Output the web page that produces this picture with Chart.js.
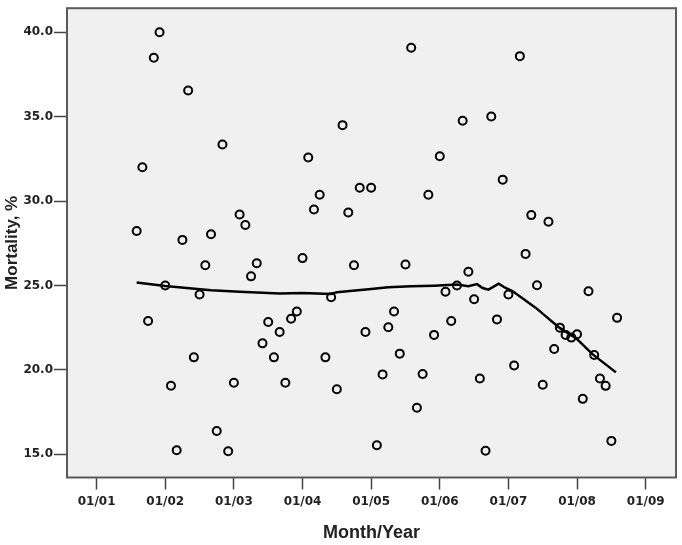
<!DOCTYPE html>
<html>
<head>
<meta charset="utf-8">
<script src="https://cdn.jsdelivr.net/npm/chart.js@4/dist/chart.umd.min.js"></script>
<style>
  html, body { margin: 0; padding: 0; background: #ffffff; }
  #wrap { width: 682px; height: 545px; }
</style>
</head>
<body>
<div id="wrap"><canvas id="c" width="682" height="545"></canvas></div>
<script>
// Month index: 0 = January 2001
const months = [7,8,9,10,11,12,13,14,15,16,17,18,19,20,21,22,23,24,25,26,27,28,29,30,31,32,33,34,35,36,37,38,39,40,41,42,43,44,45,46,47,48,49,50,51,52,53,54,55,56,57,58,59,60,61,62,63,64,65,66,67,68,69,70,71,72,73,74,75,76,77,78,79,80,81,82,83,84,85,86,87,88,89,90,91];
const mortality = [28.23,32.01,22.89,38.49,40.0,25.0,19.06,15.24,27.70,36.55,20.74,24.46,26.20,28.03,16.38,33.35,15.18,19.24,29.2,28.58,25.54,26.32,21.57,22.83,20.74,22.24,19.24,23.03,23.46,26.62,32.58,29.50,30.38,20.74,24.30,18.85,34.50,29.32,26.20,30.79,22.24,30.79,15.53,19.73,22.52,23.46,20.96,26.24,39.09,17.75,19.75,30.38,22.07,32.66,24.63,22.89,25.0,34.76,25.81,24.18,19.49,15.20,35.01,22.99,31.27,24.46,20.26,38.59,26.87,29.17,25.01,19.12,28.78,21.23,22.50,22.07,21.91,22.11,18.28,24.66,20.88,19.49,19.05,15.79,23.08];

// Fit line
const fitMonths = [7,12,20,25,32,36,41,42,48,51,55,59,63,65,66.5,67.5,68.5,69.5,70.3,71.5,72.7,76.8,80.9,83.8,86.7,90.8];
const fitValues = [25.18,24.97,24.72,24.62,24.52,24.55,24.50,24.60,24.79,24.90,24.95,24.99,25.05,24.95,25.08,24.85,24.75,24.95,25.10,24.85,24.67,23.67,22.50,21.88,20.93,19.85];

const xTickMonths = [0,12,24,36,48,60,72,84,96];
const xTickLabels = ["01/01","01/02","01/03","01/04","01/05","01/06","01/07","01/08","01/09"];
const yTicks = [15,20,25,30,35,40];

const scatterData = months.map((m, i) => ({x: m, y: mortality[i]}));
const fitData = fitMonths.map((m, i) => ({x: m, y: fitValues[i]}));

const plotFrame = {
  id: 'plotFrame',
  beforeDatasetsDraw(chart) {
    const a = chart.chartArea, ctx = chart.ctx;
    ctx.save();
    ctx.fillStyle = '#f0f0f0';
    ctx.fillRect(a.left, a.top, a.right - a.left, a.bottom - a.top);
    ctx.restore();
  },
  afterDatasetsDraw(chart) {
    const a = chart.chartArea, ctx = chart.ctx;
    ctx.save();
    ctx.strokeStyle = '#5a5a5a';
    ctx.lineWidth = 2;
    ctx.strokeRect(a.left, a.top, a.right - a.left, a.bottom - a.top);
    ctx.restore();
  }
};

new Chart(document.getElementById('c'), {
  type: 'scatter',
  data: {
    datasets: [
      {
        type: 'line',
        data: fitData,
        borderColor: '#000000',
        borderWidth: 2.5,
        pointRadius: 0,
        fill: false,
        tension: 0,
        order: 0
      },
      {
        data: scatterData,
        pointRadius: 4,
        pointBorderWidth: 2,
        borderColor: '#000000',
        backgroundColor: 'rgba(0,0,0,0)',
        pointHoverRadius: 4,
        order: 1
      }
    ]
  },
  plugins: [plotFrame],
  options: {
    responsive: false,
    animation: false,
    events: [],
    layout: { padding: { left: 0, right: 5, top: 5, bottom: 0 } },
    plugins: { legend: { display: false }, tooltip: { enabled: false } },
    scales: {
      x: {
        type: 'linear',
        min: -5.18,
        max: 101.3,
        afterBuildTicks(scale) { scale.ticks = xTickMonths.map(v => ({value: v})); },
        afterFit(scale) { scale.height = 67.5; },
        border: { display: false },
        grid: { drawOnChartArea: false, drawTicks: true, tickLength: 12, tickColor: '#444', tickWidth: 1.5 },
        ticks: {
          padding: 5,
          maxRotation: 0,
          autoSkip: false,
          color: '#222',
          font: { family: 'DejaVu Sans', weight: 'bold', size: 12 },
          callback(v) { const i = xTickMonths.indexOf(v); return i >= 0 ? xTickLabels[i] : ''; }
        },
        title: {
          display: true,
          text: 'Month/Year',
          color: '#222',
          font: { family: 'Liberation Sans', weight: 'bold', size: 18 },
          padding: { top: 0, bottom: 1 }
        }
      },
      y: {
        type: 'linear',
        min: 13.62,
        max: 41.43,
        afterBuildTicks(scale) { scale.ticks = yTicks.map(v => ({value: v})); },
        afterFit(scale) { scale.width = 67; },
        border: { display: false },
        grid: { drawOnChartArea: false, drawTicks: true, tickLength: 13, tickColor: '#444', tickWidth: 1.5 },
        ticks: {
          padding: 1,
          color: '#222',
          font: { family: 'DejaVu Sans', weight: 'bold', size: 12 },
          callback(v) { return Number(v).toFixed(1); }
        },
        title: {
          display: true,
          text: 'Mortality, %',
          color: '#222',
          font: { family: 'Liberation Sans', weight: 'bold', size: 17 },
          padding: { top: 2, bottom: 0 }
        }
      }
    }
  }
});
</script>
</body>
</html>
